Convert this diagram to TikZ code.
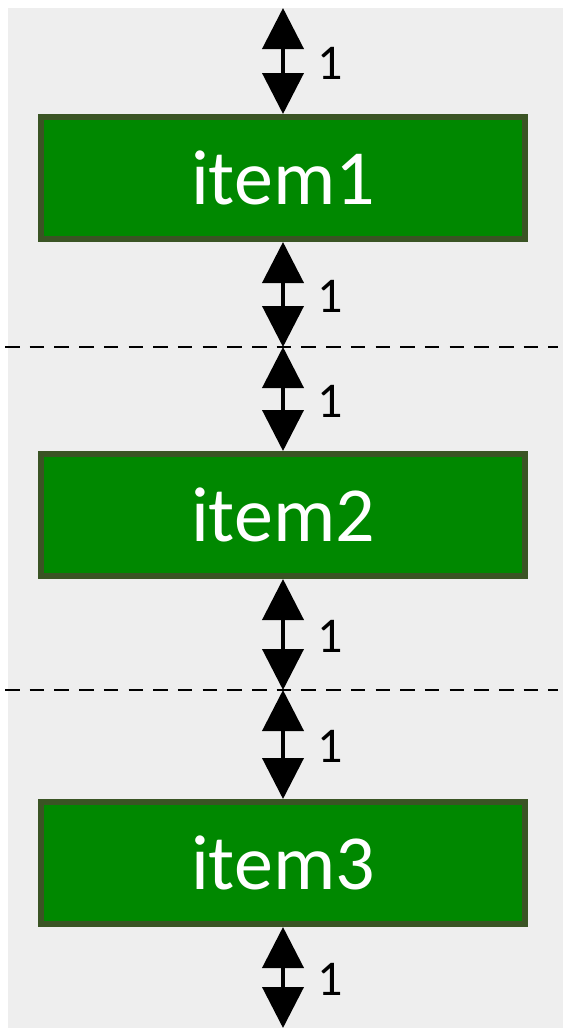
\documentclass[tikz,border=0pt]{standalone}
\usepackage{fontspec}
\setmainfont{Carlito}
\usetikzlibrary{arrows.meta}
\definecolor{bg}{HTML}{EEEEEE}
\definecolor{boxfill}{HTML}{008800}
\definecolor{boxline}{HTML}{3A5424}
\begin{document}
\begin{tikzpicture}[x=1pt,y=-1pt,
 itembox/.style={draw=boxline,line width=6pt,fill=boxfill,minimum width=484pt,minimum height=122pt,inner sep=0pt,text=white,font=\fontsize{78}{90}\selectfont},
 dbl/.style={line width=4pt,{Triangle[width=41pt,length=41pt]}-{Triangle[width=41pt,length=41pt]}},
 lbl/.style={font=\fontsize{50}{60}\selectfont,inner sep=0pt,midway,xshift=47pt,yshift=-2pt},
 sepline/.style={line width=2.8pt,dash pattern=on 14.5pt off 10.2pt}]
\useasboundingbox (0,0) rectangle (571,1036);
\fill[bg] (8,8) rectangle (563,1028);
\coordinate (top) at (283,8);
\coordinate (bot) at (283,1028);
\coordinate (d1) at (283,347);
\coordinate (d2) at (283,690);
\coordinate (d1l) at (5,347);
\coordinate (d1r) at (558,347);
\coordinate (d2l) at (5,690);
\coordinate (d2r) at (558,690);
\node[itembox] (i1) at (283,178) {item1};
\node[itembox] (i2) at (283,515) {item2};
\node[itembox] (i3) at (283,863) {item3};
\draw[sepline] (d1l) -- (d1r);
\draw[sepline] (d2l) -- (d2r);
\draw[dbl] (top) -- (i1.north) node[lbl] {1};
\draw[dbl] (i1.south) -- (d1) node[lbl] {1};
\draw[dbl] (d1) -- (i2.north) node[lbl] {1};
\draw[dbl] (i2.south) -- (d2) node[lbl] {1};
\draw[dbl] (d2) -- (i3.north) node[lbl] {1};
\draw[dbl] (i3.south) -- (bot) node[lbl] {1};
\end{tikzpicture}
\end{document}
